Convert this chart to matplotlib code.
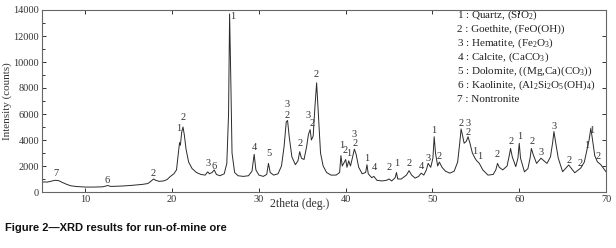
import matplotlib
matplotlib.use("Agg")
import matplotlib.pyplot as plt
from matplotlib.ticker import MultipleLocator

plt.rcParams['font.family'] = ['Liberation Serif', 'DejaVu Serif']
plt.rcParams['mathtext.fontset'] = 'custom'
plt.rcParams['mathtext.rm'] = 'Liberation Serif'
plt.rcParams['mathtext.it'] = 'Liberation Serif'

# ---- diffractogram trace (2theta, counts) ----
two_theta = [5.0, 5.3, 5.6, 6.0, 6.5, 6.9, 7.3, 7.8, 8.3, 9.0, 10.0, 11.0, 12.0, 12.4, 12.6, 12.9,
             13.5, 14.5, 15.5, 16.5, 17.2, 17.6, 17.85, 18.1, 18.5, 19.0, 19.4, 19.8, 20.2, 20.5,
             20.75, 20.85, 20.95, 21.1, 21.25, 21.4, 21.6, 21.9, 22.3, 22.8, 23.3, 23.8, 24.1, 24.3,
             24.6, 24.85, 25.1, 25.5, 26.0, 26.3, 26.5, 26.62, 26.75, 26.9, 27.2, 27.6, 28.2, 28.8,
             29.2, 29.45, 29.65, 30.0, 30.5, 30.9, 31.1, 31.3, 31.7, 32.2, 32.6, 32.9, 33.15, 33.3,
             33.5, 33.8, 34.2, 34.5, 34.7, 34.9, 35.2, 35.5, 35.7, 35.9, 36.05, 36.25, 36.45, 36.65,
             36.85, 37.1, 37.4, 37.8, 38.3, 38.9, 39.3, 39.45, 39.6, 39.85, 40.0, 40.15, 40.35, 40.55,
             40.8, 41.0, 41.2, 41.5, 41.9, 42.3, 42.45, 42.6, 43.0, 43.25, 43.6, 44.2, 44.7, 45.0,
             45.3, 45.7, 45.85, 46.0, 46.4, 47.0, 47.3, 47.6, 48.0, 48.4, 48.7, 49.0, 49.3, 49.5,
             49.8, 50.05, 50.2, 50.35, 50.6, 50.8, 51.1, 51.5, 52.0, 52.5, 52.9, 53.15, 53.3, 53.45,
             53.65, 53.9, 54.1, 54.3, 54.6, 54.9, 55.1, 55.4, 55.8, 56.4, 57.0, 57.3, 57.5, 57.7,
             58.1, 58.6, 58.85, 59.0, 59.2, 59.6, 59.85, 60.0, 60.15, 60.6, 61.0, 61.25, 61.4, 61.6,
             62.0, 62.5, 63.2, 63.6, 63.85, 64.0, 64.2, 64.5, 65.0, 65.7, 66.4, 67.1, 67.5, 67.8,
             68.05, 68.25, 68.45, 68.7, 69.0, 69.4, 70.0]
counts = [750, 780, 760, 820, 900, 880, 750, 600, 480, 420, 380, 380, 400, 470, 500, 430,
          440, 470, 520, 580, 650, 850, 1000, 900, 820, 850, 950, 1200, 1400, 1700,
          3200, 3800, 3600, 4600, 5000, 4400, 3300, 2300, 1800, 1500, 1350, 1300, 1550, 1400,
          1500, 1700, 1350, 1250, 1400, 2200, 6000, 13700, 9000, 3000, 1500, 1250, 1200, 1250,
          1600, 2900, 1700, 1300, 1200, 1350, 2200, 1500, 1300, 1400, 2000, 3500, 5400, 5500,
          4200, 2700, 2100, 2400, 3100, 2600, 2500, 3500, 4400, 4800, 4000, 4300, 6500, 8400,
          6000, 3000, 2000, 1500, 1300, 1300, 1500, 2800, 2000, 2300, 2500, 1900, 2400, 2000,
          2700, 3300, 2900, 1900, 1400, 1500, 2100, 1400, 1100, 1200, 900, 850, 900, 1000,
          850, 1100, 1500, 1000, 1000, 1300, 1640, 1300, 1070, 1200, 1450, 1300, 1700, 2200,
          1900, 2600, 4250, 3000, 2000, 2300, 1900, 1600, 1450, 1600, 2300, 3800, 4850, 4400,
          3750, 3900, 4250, 3800, 3000, 2600, 2400, 2200, 1700, 1300, 1350, 1700, 2200, 1900,
          1700, 2000, 2800, 3350, 2700, 1950, 2600, 3750, 2600, 1550, 1800, 2600, 3350, 2900,
          2200, 2600, 2200, 2700, 3800, 4650, 3800, 2600, 1560, 2080, 1480, 1850, 2300, 3230,
          4000, 4900, 4000, 2800, 2330, 2100, 1560]

# ---- peak labels (phase number, 2theta, label height in counts) ----
peak_ids = ['7', '6', '2', '1', '2', '3', '6', '1', '4', '5', '3', '2', '2', '3', '2', '2',
            '1', '2', '1', '3', '2', '1', '4', '2', '1', '2', '4', '3', '1', '2', '2', '3',
            '2', '1', '1', '2', '2', '1', '2', '3', '3', '2', '2', '1', '1', '2']
peak_x = [6.6, 12.55, 17.8, 20.8, 21.25, 24.1, 24.8, 27.0, 29.5, 31.2, 33.3, 33.3, 34.7, 35.65,
          36.1, 36.6, 39.5, 39.95, 40.4, 41.0, 41.05, 42.45, 43.3, 45.0, 45.9, 47.3, 48.7, 49.5,
          50.2, 50.75, 53.25, 54.1, 54.1, 54.9, 55.4, 57.5, 59.05, 60.0, 61.45, 62.5, 64.0, 65.7,
          67.0, 67.8, 68.3, 69.1]
peak_y = [1400, 900, 1400, 4900, 5700, 2200, 1950, 13500, 3400, 3000, 6700, 5900, 3750, 5900,
          5300, 9000, 3600, 3200, 3000, 4400, 3700, 2550, 1850, 1850, 2200, 2200, 1950, 2550,
          4750, 2700, 5300, 5300, 4550, 3100, 2700, 2850, 3850, 4250, 3850, 3050, 5050, 2450,
          2200, 3600, 4750, 2700]

legend_lines = [r'1 : Quartz, (SiO$_2$)',
                r'2 : Goethite, (FeO(OH))',
                r'3 : Hematite, (Fe$_2$O$_3$)',
                r'4 : Calcite, (CaCO$_3$)',
                r'5 : Dolomite, ((Mg,Ca)(CO$_3$))',
                r'6 : Kaolinite, (Al$_2$Si$_2$O$_5$(OH)$_4$)',
                r'7 : Nontronite']

x_ticks = [10, 20, 30, 40, 50, 60, 70]
y_ticks = [0, 2000, 4000, 6000, 8000, 10000, 12000, 14000]

fig = plt.figure(figsize=(6.16, 2.48), dpi=100)
ax = fig.add_axes([42 / 616, 1 - 192 / 248, (606 - 42) / 616, (192 - 10) / 248])

line_col = '#2a2a2a'
ax.plot(two_theta, counts, color=line_col, lw=0.7)

for t, px, py in zip(peak_ids, peak_x, peak_y):
    ax.text(px, py, t, ha='center', va='center', fontsize=7.5, color='#333333')

ax.set_xlim(5, 70)
ax.set_ylim(0, 14000)
ax.set_xticks(x_ticks)
ax.set_yticks(y_ticks)
ax.yaxis.set_minor_locator(MultipleLocator(1000))
ax.tick_params(axis='both', which='both', direction='in', labelsize=7.5,
               colors='#333333', width=0.7)
ax.tick_params(axis='both', which='major', length=3, pad=2)
ax.tick_params(axis='both', which='minor', length=2)
ax.tick_params(top=True, right=True, labelright=False, labeltop=False)
ax.tick_params(axis='x', which='minor', bottom=False, top=False)
for s in ax.spines.values():
    s.set_color('#666666')
    s.set_linewidth(0.8)

ax.set_ylabel('Intensity (counts)', fontsize=8, color='#333333', labelpad=1)
ax.text(34.7, -0.035, '2theta (deg.)', transform=ax.get_xaxis_transform(),
        ha='center', va='top', fontsize=8.5, color='#333333')

for i, s in enumerate(legend_lines):
    fig.text(457 / 616, 1 - (15 + 14 * i) / 248, s, ha='left', va='center',
             fontsize=8, color='#222222')

fig.text(5 / 616, 1 - 228 / 248, 'Figure 2\u2014XRD results for run-of-mine ore',
         ha='left', va='center', fontsize=8, fontweight='bold',
         family=['Liberation Sans', 'DejaVu Sans'], color='#111111')

fig.savefig('out.png', dpi=100)
